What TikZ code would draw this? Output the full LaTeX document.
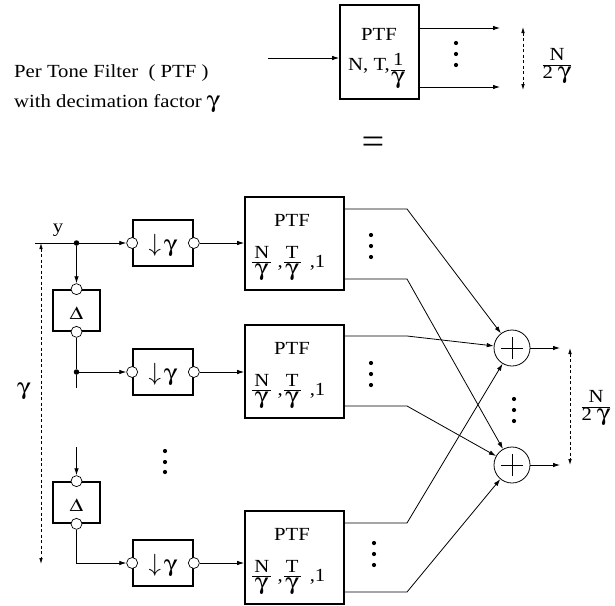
\documentclass[tikz,border=0pt]{standalone}
\usepackage{amsmath}
\usepackage{graphicx}
\usepackage[Symbol]{upgreek}
\usepackage{fontspec}
\setmainfont[FakeStretch=1.12]{Liberation Serif}
\usetikzlibrary{arrows.meta}
\newcommand\gm{\scalebox{1.2}[1]{\fontsize{23}{23}\selectfont$\upgamma$}}
\newcommand\dlt{\scalebox{1.2}[1]{\fontsize{18.5}{18.5}\selectfont$\Updelta$}}
\newcommand\darrow{{\fontsize{24}{24}\selectfont$\downarrow$}}
\newcommand\myfr[2]{$\genfrac{}{}{0.8pt}{}{\raisebox{2pt}{\kern2pt#1\kern2pt}}{\hbox{#2}}$}
\begin{document}
\begin{tikzpicture}[x=1pt,y=-1pt,
  font=\fontsize{18.5}{22}\selectfont,
  txt/.style={inner sep=0pt},
  arr/.style={-{Latex[length=7pt,width=4.5pt]}},
  darr/.style={{Latex[length=6pt,width=3.6pt]}-{Latex[length=6pt,width=3.6pt]}},
  dashd/.style={dash pattern=on 3pt off 2.5pt},
  thickbox/.style={draw,line width=1.7pt,inner sep=0pt},
  ptfbox/.style={thickbox,minimum width=99pt,minimum height=93pt},
  dsbox/.style={thickbox,minimum width=60pt,minimum height=46pt},
  delbox/.style={thickbox,minimum width=47pt,minimum height=41pt},
  port/.style={circle,draw,fill=white,line width=0.7pt,inner sep=0pt,minimum size=11pt},
  jdot/.style={circle,fill,inner sep=0pt,minimum size=5.5pt},
  adder/.style={circle,draw,line width=0.8pt,inner sep=0pt,minimum size=36pt},
  conn/.style={line width=0.8pt},
  dotr/.style={radius=2.1pt}
]
\useasboundingbox (0,0) rectangle (615,605);

% ---------- top: definition ----------
\node[txt,anchor=base west] (l1) at (14,77) {Per Tone Filter \ ( PTF )};
\node[txt,anchor=base west] (l2) at (14,107) {with decimation factor \gm};

\node[thickbox,minimum width=79pt,minimum height=94pt] (T) at (379.5,52) {};
\node[txt,anchor=base] (Tt) at (379,40) {PTF};
\node[txt,anchor=base west] (Tp) at (348,70) {N, T,\raisebox{-4.6pt}{\myfr{1}{\gm}}};
\coordinate (tin) at (268,58);
\draw[conn,arr] (tin) -- (tin -| T.west);
\coordinate (to1) at (500,28);
\coordinate (to2) at (500,87);
\draw[conn,arr] (to1 -| T.east) -- (to1);
\draw[conn,arr] (to2 -| T.east) -- (to2);
\fill (456,43) circle[dotr] (456,54) circle[dotr] (456,65) circle[dotr];
\coordinate (tda) at (523,27);
\coordinate (tdb) at (523,90);
\draw[conn,dashd,darr] (tda) -- (tdb);
\node[txt] (Tn) at (557,66) {\myfr{N}{2\ \gm}};
\node[txt,anchor=base] (eq) at (373,153) {\fontsize{36}{36}\selectfont =};

% ---------- bottom: structure ----------
\node[dsbox] (ds1) at (163,243) {};
\node[dsbox] (ds2) at (163,372) {};
\node[dsbox] (ds3) at (163,563) {};
\foreach \i in {1,2,3}{
  \node[txt,anchor=base] at ([yshift=-8.5pt]ds\i.center) {\darrow\,\gm};
  \node[port] (d\i i) at (ds\i.west) {};
  \node[port] (d\i o) at (ds\i.east) {};
}
\node[delbox] (D1) at (76.5,310.5) {};
\node[delbox] (D2) at (76.5,502.5) {};
\foreach \i in {1,2}{
  \node[txt,anchor=base] at ([yshift=-8.5pt]D\i.center) {\dlt};
  \node[port] (D\i i) at (D\i.north) {};
  \node[port] (D\i o) at (D\i.south) {};
}

\node[ptfbox] (P1) at (294.5,243.5) {};
\node[ptfbox] (P2) at (294.5,371.5) {};
\node[ptfbox] (P3) at (294.5,557.5) {};
\foreach \i/\t in {1/197,2/325,3/511}{
  \node[txt,anchor=base] at (292,\t+29) {PTF};
  \node[txt,anchor=base west] at (251,\t+70) {\myfr{N}{\gm}\hspace{5pt},\myfr{T}{\gm}\hspace{8pt},1};
}

\node[adder] (A1) at (512,348) {};
\node[adder] (A2) at (512,465) {};
\foreach \a in {A1,A2}{
  \draw[line width=0.7pt] ([xshift=-11pt]\a.center) -- ([xshift=11pt]\a.center);
  \draw[line width=0.7pt] ([yshift=-11pt]\a.center) -- ([yshift=11pt]\a.center);
}

% input chain
\coordinate (yin) at (35,243);
\node[jdot] (j1) at (76.5,243) {};
\node[jdot] (j2) at (76.5,372) {};
\coordinate (stub) at (76.5,388);
\coordinate (st2) at (76.5,447);
\node[txt,anchor=base] (ylab) at (58,232) {y};
\draw[conn,arr] (yin) -- (d1i);
\draw[conn,arr] (j1) -- (D1i);
\draw[conn] (D1o) -- (j2);
\draw[conn] (j2) -- (stub);
\draw[conn,arr] (j2) -- (d2i);
\draw[conn,arr] (st2) -- (D2i);
\draw[conn,arr] (D2o) |- (d3i);
\draw[conn,arr] (d1o) -- (d1o -| P1.west);
\draw[conn,arr] (d2o) -- (d2o -| P2.west);
\draw[conn,arr] (d3o) -- (d3o -| P3.west);

\fill (165,451) circle[dotr] (165,462) circle[dotr] (165,472) circle[dotr];

\coordinate (lda) at (41,243);
\coordinate (ldb) at (41,564);
\draw[conn,dashd,darr] (lda) -- (ldb);
\node[txt,anchor=base] (glab) at (24,394) {\gm};

% PTF outputs
\coordinate (b11) at (407,209);
\coordinate (b12) at (407,279);
\coordinate (b21) at (407,336);
\coordinate (b22) at (407,406);
\coordinate (b31) at (407,523);
\coordinate (b32) at (407,592);
\draw[conn,arr] (b11 -| P1.east) -- (b11) -- (A1);
\draw[conn,arr] (b12 -| P1.east) -- (b12) -- (A2);
\draw[conn,arr] (b21 -| P2.east) -- (b21) -- (A1);
\draw[conn,arr] (b22 -| P2.east) -- (b22) -- (A2);
\draw[conn,arr] (b31 -| P3.east) -- (b31) -- (A1);
\draw[conn,arr] (b32 -| P3.east) -- (b32) -- (A2);

\fill (371,235) circle[dotr] (371,246) circle[dotr] (371,257) circle[dotr];
\fill (371,363) circle[dotr] (371,374) circle[dotr] (371,385) circle[dotr];
\fill (374,543) circle[dotr] (374,554) circle[dotr] (374,565) circle[dotr];

% adder outputs
\coordinate (ao1) at (560,348);
\coordinate (ao2) at (560,465);
\draw[conn,arr] (A1) -- (ao1);
\draw[conn,arr] (A2) -- (ao2);
\fill (514,399) circle[dotr] (514,410) circle[dotr] (514,421) circle[dotr];
\coordinate (rda) at (570,348);
\coordinate (rdb) at (570,465);
\draw[conn,dashd,darr] (rda) -- (rdb);
\node[txt] (Rn) at (596,408) {\myfr{N}{2\ \gm}};
\end{tikzpicture}
\end{document}
